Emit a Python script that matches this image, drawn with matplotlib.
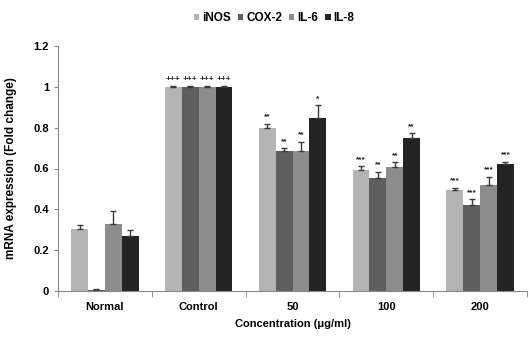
import numpy as np
import matplotlib.pyplot as plt
from matplotlib.ticker import FixedLocator

plt.rcParams['font.family'] = ['Liberation Sans', 'DejaVu Sans']

# Data
groups = ["Normal", "Control", "50", "100", "200"]
series = ["iNOS", "COX-2", "IL-6", "IL-8"]
inos = [0.305, 1.0, 0.80, 0.592, 0.493]
cox2 = [0.005, 1.0, 0.686, 0.555, 0.421]
il6 = [0.33, 1.0, 0.686, 0.607, 0.52]
il8 = [0.27, 1.0, 0.846, 0.748, 0.62]
inos_err = [0.02, 0.002, 0.02, 0.02, 0.013]
cox2_err = [0.004, 0.002, 0.015, 0.03, 0.028]
il6_err = [0.06, 0.002, 0.045, 0.025, 0.04]
il8_err = [0.03, 0.002, 0.065, 0.025, 0.013]
inos_sig = ["", "+++", "**", "***", "***"]
cox2_sig = ["", "+++", "**", "**", "***"]
il6_sig = ["", "+++", "**", "**", "***"]
il8_sig = ["", "+++", "*", "**", "***"]

colors = ["#b4b4b4", "#5e5e5e", "#8c8c8c", "#232323"]

values = [inos, cox2, il6, il8]
errors = [inos_err, cox2_err, il6_err, il8_err]
sigs = [inos_sig, cox2_sig, il6_sig, il8_sig]

fig = plt.figure(figsize=(5.29, 3.37), dpi=100)
ax = fig.add_axes([58/529, 1-291/337, 469/529, 245/337])

x = np.arange(len(groups))
w = 0.18
for i in range(4):
    pos = x + (i - 1.5) * w
    ax.bar(pos, values[i], w, color=colors[i], label=series[i],
           yerr=[np.zeros(5), errors[i]], capsize=2,
           error_kw=dict(ecolor="#3a3a3a", elinewidth=1, capthick=1))
    for p, v, e, s in zip(pos, values[i], errors[i], sigs[i]):
        if s:
            ax.text(p, v + e + 0.015, s, ha="center", va="bottom",
                    fontsize=6, fontweight="bold", color="#222222")

ax.set_xlim(-0.5, 4.5)
ax.set_ylim(0, 1.2)
ax.set_yticks([0, 0.2, 0.4, 0.6, 0.8, 1.0, 1.2])
ax.set_yticklabels(["0", "0.2", "0.4", "0.6", "0.8", "1", "1.2"])
ax.set_xticks(x)
ax.set_xticklabels(groups)
ax.xaxis.set_minor_locator(FixedLocator(np.arange(-0.5, 5, 1.0)))
ax.tick_params(axis="x", which="major", length=0, pad=8)
ax.tick_params(axis="x", which="minor", length=4, color="#888888")
ax.tick_params(axis="y", length=3, color="#888888")
for lab in ax.get_xticklabels() + ax.get_yticklabels():
    lab.set_fontweight("bold")
    lab.set_fontsize(8)

ax.spines["top"].set_visible(False)
ax.spines["right"].set_visible(False)
ax.spines["left"].set_color("#888888")
ax.spines["bottom"].set_color("#888888")

ax.set_xlabel("Concentration (\u03bcg/ml)", fontsize=8, fontweight="bold", labelpad=5)
ax.set_ylabel("mRNA expression (Fold change)", fontsize=8.5, fontweight="bold", labelpad=12)

leg = fig.legend(loc="upper center", bbox_to_anchor=(0.518, 0.995), ncol=4,
                 frameon=False, handlelength=0.45, handleheight=0.45,
                 handletextpad=0.25, columnspacing=0.6,
                 prop=dict(weight="bold", size=8.5))

fig.savefig("out.png", dpi=100)
